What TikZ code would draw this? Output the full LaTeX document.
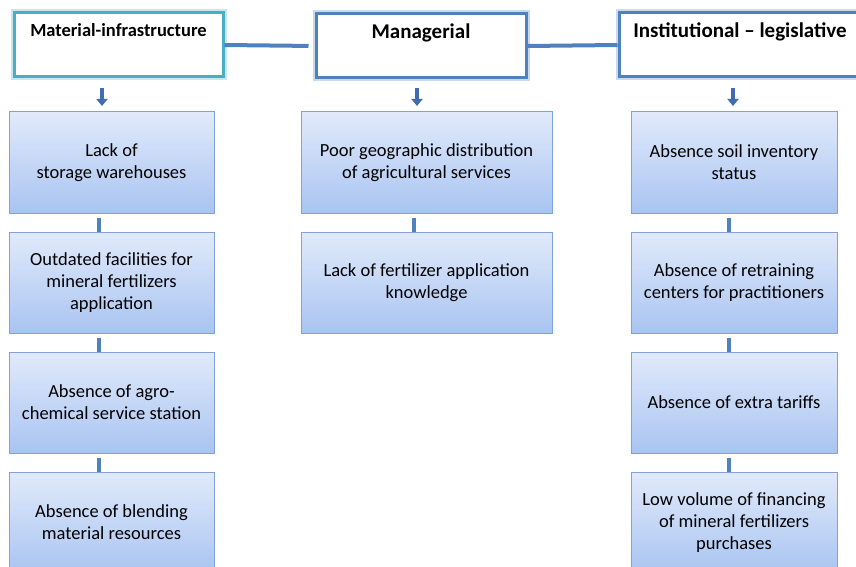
\documentclass[tikz,border=0pt]{standalone}
\usepackage{fontspec}
\setmainfont{Carlito}
\usetikzlibrary{arrows.meta,calc}
\definecolor{hdrteal}{HTML}{4BACC6}
\definecolor{hdrblue}{HTML}{4F81BD}
\definecolor{boxtop}{HTML}{E1EAFB}
\definecolor{boxbot}{HTML}{A9C4F1}
\definecolor{boxline}{HTML}{7EA2D9}
\definecolor{arrowblue}{HTML}{3F6DAF}
\begin{document}
\begin{tikzpicture}[x=1pt,y=-1pt,
  hdr/.style={draw=hdrblue, line width=3pt, fill=white, minimum height=64pt, inner sep=4pt,
    text height=21pt, text depth=35pt, font=\fontsize{21}{24}\selectfont\bfseries,
    preaction={draw=#1!30, line width=7pt}},
  hdr/.default=hdrblue,
  item/.style={draw=boxline, line width=1pt, top color=boxtop, bottom color=boxbot,
    minimum height=101pt, align=center, font=\fontsize{18.5}{22}\selectfont},
  link/.style={draw=hdrblue, line width=4pt},
  bar/.style={draw=hdrblue, line width=4pt},
  downarrow/.style={draw=arrowblue, line width=4pt, -{Triangle[width=11pt,length=7pt]}}
]
\useasboundingbox (0,0) rectangle (856,567);
\fill[white] (0,0) rectangle (856,567);
\clip (0,0) rectangle (856,567);

% headers
\node[hdr=hdrteal, draw=hdrteal, minimum width=209pt, text height=20pt, text depth=36pt,
  font=\fontsize{18.5}{22}\selectfont\bfseries] (h1) at (118.5,45) {Material-infrastructure};
\node[hdr, minimum width=210pt] (h2) at (421,46) {Managerial};
\node[hdr, minimum width=242pt] (h3) at (740,45) {Institutional -- legislative};

\draw[link, shorten >=6pt] (h1.east) -- (h2.west);
\draw[link] (h2.east) -- (h3.west);

% left column
\node[item, minimum width=205pt] (a1) at (111.5,162.5) {Lack of\\storage warehouses};
\node[item, minimum width=205pt] (a2) at (111.5,282.5) {Outdated facilities for\\mineral fertilizers\\application};
\node[item, minimum width=205pt] (a3) at (111.5,402.5) {Absence of agro-\\chemical service station};
\node[item, minimum width=205pt] (a4) at (111.5,522.5) {Absence of blending\\material resources};

% middle column
\node[item, minimum width=251pt] (b1) at (426.5,162.5) {Poor geographic distribution\\of agricultural services};
\node[item, minimum width=251pt] (b2) at (426.5,282.5) {Lack of fertilizer application\\knowledge};

% right column
\node[item, minimum width=206pt] (c1) at (734,162.5) {Absence soil inventory\\status};
\node[item, minimum width=206pt] (c2) at (734,282.5) {Absence of retraining\\centers for practitioners};
\node[item, minimum width=206pt] (c3) at (734,402.5) {Absence of extra tariffs};
\node[item, minimum width=206pt] (c4) at (734,522.5) {Low volume of financing\\of mineral fertilizers\\purchases};

% arrows from headers
\coordinate (ar1s) at (102,88);  \coordinate (ar1e) at (102,106);
\coordinate (ar2s) at (417,88);  \coordinate (ar2e) at (417,106);
\coordinate (ar3s) at (733,88);  \coordinate (ar3e) at (733,106);
\draw[downarrow] (ar1s) -- (ar1e);
\draw[downarrow] (ar2s) -- (ar2e);
\draw[downarrow] (ar3s) -- (ar3e);

% bars between boxes
\draw[bar] ($(a1.south)+(-12.5,4)$) -- ($(a2.north)+(-12.5,0)$);
\draw[bar] ($(a2.south)+(-12.5,4)$) -- ($(a3.north)+(-12.5,0)$);
\draw[bar] ($(a3.south)+(-12.5,4)$) -- ($(a4.north)+(-12.5,0)$);
\draw[bar] ($(b1.south)+(-12.5,4)$) -- ($(b2.north)+(-12.5,0)$);
\draw[bar] ($(c1.south)+(-5.5,4)$) -- ($(c2.north)+(-5.5,0)$);
\draw[bar] ($(c2.south)+(-5.5,4)$) -- ($(c3.north)+(-5.5,0)$);
\draw[bar] ($(c3.south)+(-5.5,4)$) -- ($(c4.north)+(-5.5,0)$);
\end{tikzpicture}
\end{document}
